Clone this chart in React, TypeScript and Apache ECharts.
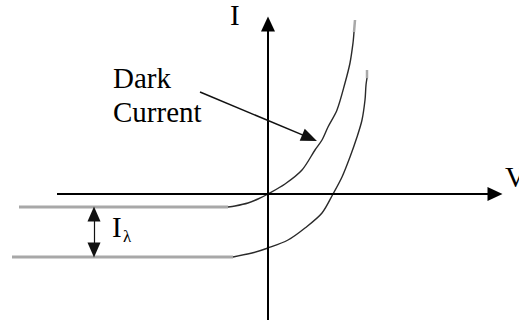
import React, { useEffect, useRef } from "react";
import * as echarts from "echarts";

// Coordinates: V (horizontal) and I (vertical), origin at the axes' crossing.
const vRange = [-268, 251];
const iRange = [-127, 194];

// Dark-current curve (upper): flat reverse part, then exponential rise
const darkFlatV = [-249, -40];
const darkFlatI = [-13, -13];
const darkCurveV = [-40, -33, -20, -10, 0, 17, 34, 47, 54, 60, 69, 77, 82, 85, 86];
const darkCurveI = [-13, -12, -9, -5, 0, 10, 24, 44, 54, 67, 84, 111, 131, 151, 162];
const darkTipV = [86, 87];
const darkTipI = [162, 174];

// Illuminated curve (lower): shifted down by I_lambda
const lightFlatV = [-256, -35];
const lightFlatI = [-63, -63];
const lightCurveV = [-35, -16, 0, 20, 37, 54, 65, 74, 82, 89, 94, 97, 98, 99];
const lightCurveI = [-63, -59, -54, -46, -34, -19, 0, 17, 37, 57, 74, 94, 109, 116];
const lightTipV = [99, 99];
const lightTipI = [116, 124];

// Axes and arrows
const hAxis = [[-211, 0], [227, 0]];
const vAxis = [[0, -126], [0, 170]];
const iLambdaArrow = [[-174, -20], [-174, -56]];
const pointerArrow = [[-68, 102], [41.6, 56.1]];

const zip = (a: number[], b: number[]) => a.map((v, i) => [v, b[i]]);

export default function App() {
  const ref = useRef<HTMLDivElement>(null);
  useEffect(() => {
    if (!ref.current) return;
    const chart = echarts.init(ref.current, null, { renderer: "svg" });
    const lineSeries = (data: number[][], color: string, width: number) => ({
      type: "line",
      data,
      symbol: "none",
      smooth: 0.3,
      clip: false,
      silent: true,
      lineStyle: { color, width },
    });
    const arrowMark = (
      pts: number[][],
      sym: string[],
      color: string,
      width: number,
      size: number[]
    ) => ({
      type: "line",
      data: [],
      silent: true,
      markLine: {
        silent: true,
        symbol: sym,
        symbolSize: size,
        label: { show: false },
        lineStyle: { color, width, type: "solid" },
        emphasis: { disabled: true },
        data: [[{ coord: pts[0] }, { coord: pts[1] }]],
      },
    });
    const txt = (text: string, x: number, y: number, size: number) => ({
      type: "text",
      x,
      y,
      style: {
        text,
        fontFamily: "Liberation Serif",
        fontSize: size,
        fill: "#000",
      },
    });
    chart.setOption({
      animation: false,
      grid: { left: 0, right: 0, top: 0, bottom: 0 },
      xAxis: { type: "value", min: vRange[0], max: vRange[1], show: false },
      yAxis: { type: "value", min: iRange[0], max: iRange[1], show: false },
      series: [
        arrowMark(hAxis, ["none", "triangle"], "#000", 2, [14, 15]),
        arrowMark(vAxis, ["none", "triangle"], "#000", 2, [14, 15]),
        lineSeries(zip(darkFlatV, darkFlatI), "#a8a8a8", 3),
        lineSeries(zip(darkCurveV, darkCurveI), "#2a2a2a", 1.4),
        lineSeries(zip(darkTipV, darkTipI), "#a8a8a8", 2.5),
        lineSeries(zip(lightFlatV, lightFlatI), "#a8a8a8", 3),
        lineSeries(zip(lightCurveV, lightCurveI), "#2a2a2a", 1.4),
        lineSeries(zip(lightTipV, lightTipI), "#a8a8a8", 2.5),
        arrowMark(iLambdaArrow, ["triangle", "triangle"], "#111", 1.2, [13, 15]),
        arrowMark(pointerArrow, ["none", "triangle"], "#111", 1.5, [13, 16]),
      ],
      graphic: [
        txt("Dark", 113, 63, 29),
        txt("Current", 113, 97, 29),
        txt("I", 230, 0, 29),
        txt("V", 505, 162, 29),
        txt("I", 112, 212, 29),
        txt("λ", 123, 228, 17),
      ],
    });
    return () => chart.dispose();
  }, []);
  return (
    <div
      ref={ref}
      style={{ position: "absolute", left: 0, top: 0, width: 519, height: 321, background: "#fff" }}
    />
  );
}
